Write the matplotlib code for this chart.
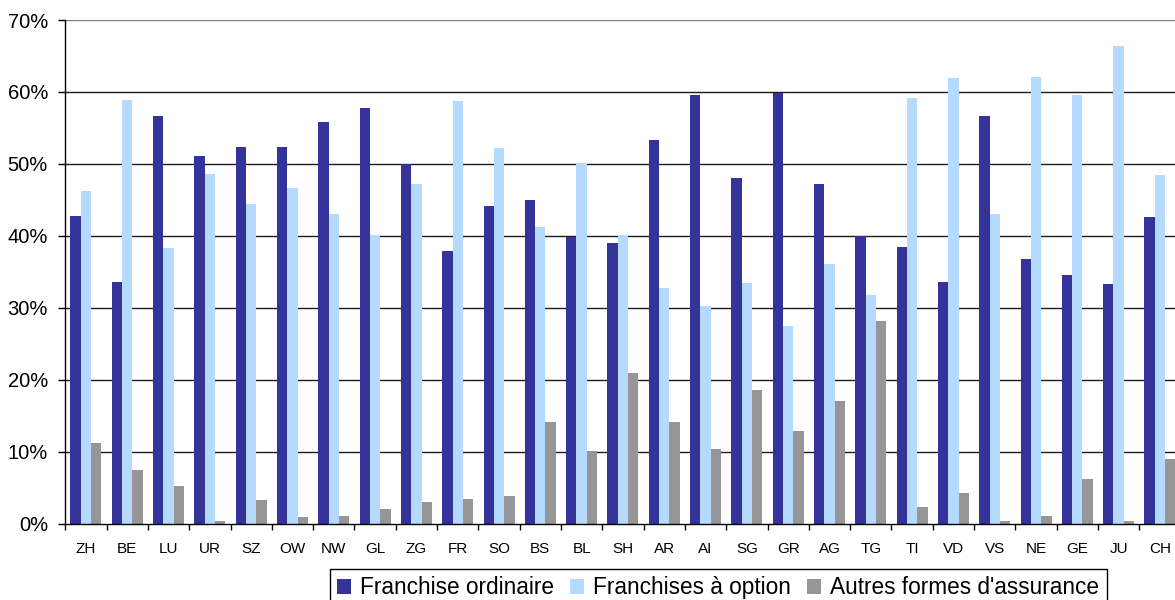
import matplotlib
matplotlib.use("Agg")
import matplotlib.pyplot as plt
from matplotlib.patches import Patch
from matplotlib.ticker import FuncFormatter
import numpy as np

plt.rcParams['font.family'] = ['Liberation Sans', 'DejaVu Sans']

cantons = ["ZH", "BE", "LU", "UR", "SZ", "OW", "NW", "GL", "ZG", "FR", "SO", "BS", "BL", "SH",
           "AR", "AI", "SG", "GR", "AG", "TG", "TI", "VD", "VS", "NE", "GE", "JU", "CH"]

franchise_ordinaire = [42.8, 33.6, 56.7, 51.1, 52.3, 52.3, 55.8, 57.8, 50.0, 37.9, 44.1, 45.0, 39.9, 39.0,
                       53.3, 59.6, 48.0, 59.8, 47.2, 40.0, 38.4, 33.6, 56.7, 36.8, 34.6, 33.3, 42.6]
franchises_option = [46.2, 58.9, 38.3, 48.6, 44.4, 46.7, 43.0, 40.1, 47.2, 58.7, 52.2, 41.2, 50.0, 40.1,
                     32.7, 30.2, 33.4, 27.5, 36.1, 31.8, 59.2, 61.9, 43.0, 62.1, 59.6, 66.4, 48.5]
autres_formes = [11.2, 7.5, 5.2, 0.4, 3.3, 0.9, 1.1, 2.0, 3.0, 3.4, 3.8, 14.1, 10.1, 20.9,
                 14.1, 10.4, 18.6, 12.9, 17.1, 28.2, 2.3, 4.3, 0.4, 1.1, 6.2, 0.4, 9.0]

series_labels = ["Franchise ordinaire", "Franchises à option", "Autres formes d'assurance"]
series_colors = ["#333399", "#B4DAFF", "#969696"]

W, H = 1175, 600
fig = plt.figure(figsize=(W / 100, H / 100), dpi=100)
left, right, bottom, top = 65.3, 1180.6, 523.7, 20.0
ax = fig.add_axes([left / W, 1 - bottom / H, (right - left) / W, (bottom - top) / H])

x = np.arange(len(cantons))
bw = 0.25
for i, (vals, col) in enumerate(zip([franchise_ordinaire, franchises_option, autres_formes], series_colors)):
    ax.bar(x + (i - 1) * bw, vals, width=bw, color=col, linewidth=0, zorder=3)

ax.set_xlim(-0.5, len(cantons) - 0.5)
ax.set_ylim(0, 70)
ax.set_yticks(np.arange(0, 71, 10))
ax.yaxis.set_major_formatter(FuncFormatter(lambda v, p: f"{v:.0f}%"))
for yv in range(10, 71, 10):
    ax.axhline(yv, color="#808080" if yv == 70 else "#1a1a1a", lw=1.0, zorder=1)

ax.set_xticks(x)
ax.set_xticklabels(cantons, fontsize=11)
ax.set_xticks(np.arange(-0.5, len(cantons), 1), minor=True)
ax.tick_params(axis="x", which="major", length=0, pad=13.5)
ax.tick_params(axis="x", which="minor", length=4.5, width=1, color="black", direction="out")
ax.tick_params(axis="y", length=5, width=1, color="black", direction="out", labelsize=14.5, pad=7.5)

for s in ("top", "right"):
    ax.spines[s].set_visible(False)
for s in ("left", "bottom"):
    ax.spines[s].set_color("black")
    ax.spines[s].set_linewidth(1)
ax.spines["bottom"].set_zorder(4)

handles = [Patch(facecolor=c, edgecolor="none", label=l) for c, l in zip(series_colors, series_labels)]
leg = fig.legend(handles=handles, loc="upper left", bbox_to_anchor=(329.5 / W, 1 - 568.5 / H),
                 ncol=3, fontsize=16.3, frameon=True, fancybox=False, framealpha=1,
                 handlelength=0.62, handleheight=0.62, handletextpad=0.38, columnspacing=0.72,
                 borderpad=0.35, borderaxespad=0)
leg.get_frame().set_edgecolor("black")
leg.get_frame().set_linewidth(1)

fig.savefig("out.png", dpi=100)
